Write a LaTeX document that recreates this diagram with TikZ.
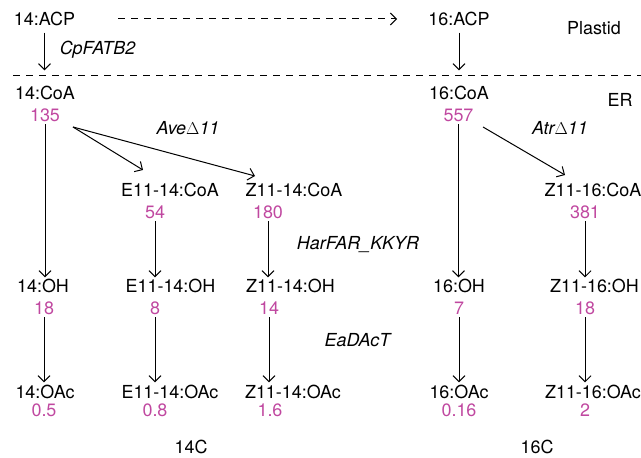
\documentclass[tikz,border=0pt]{standalone}
\usepackage{fontspec}
\setmainfont{TeX Gyre Heros}
\usetikzlibrary{arrows.meta}
\definecolor{numc}{RGB}{192,72,160}
\begin{document}
\begin{tikzpicture}[x=1bp,y=-1bp,
 lab/.style={anchor=base,font=\fontsize{18}{21}\selectfont,inner sep=2bp},
 numb/.style={lab,text=numc},
 enz/.style={lab,font=\fontsize{18}{21}\selectfont\itshape},
 tip/.style={-{Straight Barb[length=6bp,width=12bp]}},
 arr/.style={line width=1bp,tip},
 dsh/.style={line width=1bp,dash pattern=on 7bp off 6bp}]
\useasboundingbox (0,0) rectangle (641,458);
% row 1
\node[lab] (acp14) at (44.5,26) {14:ACP};
\node[lab] (acp16) at (459,26) {16:ACP};
\node[lab] (plastid) at (594,35) {Plastid};
\node[enz] (fatb) at (97.5,55) {CpFATB2};
% separator
\coordinate (sepL) at (13,76);
\coordinate (sepR) at (641,76);
\draw[dsh] (sepL) -- (sepR);
\coordinate (dA) at (118,19);
\coordinate (dB) at (397,19);
\draw[dsh,tip] (dA) -- (dB);
% row 2
\node[lab] (coa14) at (45,100) {14:CoA};
\node[numb] (n135) at (45,122) {135};
\node[lab] (coa16) at (459,100) {16:CoA};
\node[numb] (n557) at (458.5,122) {557};
\node[lab] (er) at (620,107) {ER};
\node[enz] (ave) at (188,135) {Ave$\Delta$11};
\node[enz] (atr) at (560,135) {Atr$\Delta$11};
\draw[arr,shorten <=4bp,shorten >=14bp] (acp14.south) -- (acp14.south |- coa14.north);
\draw[arr,shorten <=4bp,shorten >=14bp] (acp16.south) -- (acp16.south |- coa16.north);
% row 3
\node[lab] (e14coa) at (170,197) {E11-14:CoA};
\node[numb] (n54) at (155,219) {54};
\node[lab] (z14coa) at (294,197) {Z11-14:CoA};
\node[numb] (n180) at (268,219) {180};
\node[lab] (z16coa) at (593,197) {Z11-16:CoA};
\node[numb] (n381) at (585,219) {381};
\node[enz] (har) at (358,250) {HarFAR\_KKYR};
% desaturase arrows
\coordinate (s14) at (73,127);
\coordinate (eE) at (143,170);
\coordinate (eZ) at (255,176);
\coordinate (s16) at (483,127);
\coordinate (eZ16) at (565,175);
\draw[arr] (s14) -- (eE);
\draw[arr] (s14) -- (eZ);
\draw[arr] (s16) -- (eZ16);
% row 4
\node[lab] (oh14) at (43,293) {14:OH};
\node[numb] (n18a) at (44,315) {18};
\node[lab] (e14oh) at (170.5,293) {E11-14:OH};
\node[numb] (n8) at (155,315) {8};
\node[lab] (z14oh) at (290.5,293) {Z11-14:OH};
\node[numb] (n14) at (269,315) {14};
\node[lab] (oh16) at (459,293) {16:OH};
\node[numb] (n7) at (459,315) {7};
\node[lab] (z16oh) at (594.5,293) {Z11-16:OH};
\node[numb] (n18b) at (585,315) {18};
\node[enz] (dact) at (357.5,346) {EaDAcT};
% row 5
\node[lab] (oac14) at (45,398) {14:OAc};
\node[numb] (n05) at (44,416) {0.5};
\node[lab] (e14oac) at (170,398) {E11-14:OAc};
\node[numb] (n08) at (155,416) {0.8};
\node[lab] (z14oac) at (293,398) {Z11-14:OAc};
\node[numb] (n16) at (270,416) {1.6};
\node[lab] (oac16) at (459,398) {16:OAc};
\node[numb] (n016) at (459,416) {0.16};
\node[lab] (z16oac) at (593,398) {Z11-16:OAc};
\node[numb] (n2) at (585,416) {2};
\node[lab] (c14) at (191,453) {14C};
\node[lab] (c16) at (537,453) {16C};
% vertical arrows
\draw[arr] (n135.south) -- (n135.south |- oh14.north);
\draw[arr] (n54.south) -- (n54.south |- e14oh.north);
\draw[arr] (n180.south) -- (n180.south |- z14oh.north);
\draw[arr] (n557.south) -- (n557.south |- oh16.north);
\draw[arr] (n381.south) -- (n381.south |- z16oh.north);
\draw[arr] (n18a.south) -- (n18a.south |- oac14.north);
\draw[arr] (n8.south) -- (n8.south |- e14oac.north);
\draw[arr] (n14.south) -- (n14.south |- z14oac.north);
\draw[arr] (n7.south) -- (n7.south |- oac16.north);
\draw[arr] (n18b.south) -- (n18b.south |- z16oac.north);
\end{tikzpicture}
\end{document}
